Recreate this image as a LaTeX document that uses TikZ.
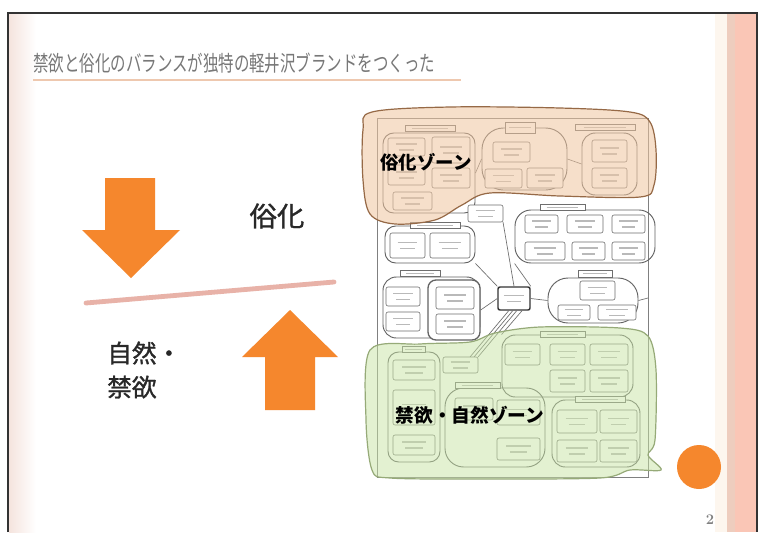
\documentclass[tikz,border=0pt]{standalone}
\usepackage{graphicx}
\usepackage{fontspec}
\newfontfamily\jp{Noto Sans CJK JP}
\newfontfamily\jpm[FakeBold=1.2]{Noto Sans CJK JP}
\usetikzlibrary{fit,calc}
\definecolor{orng}{RGB}{245,135,45}
\definecolor{pinkln}{RGB}{232,178,168}
\definecolor{peach}{RGB}{238,200,175}
\definecolor{barpink}{RGB}{250,198,182}
\definecolor{barmid}{RGB}{238,205,190}
\definecolor{barlite}{RGB}{253,246,238}
\definecolor{leftstrip}{RGB}{245,228,222}
\definecolor{titlegray}{RGB}{120,120,120}
\definecolor{zoneOfill}{RGB}{240,198,160}
\definecolor{zoneOline}{RGB}{150,105,70}
\definecolor{zoneGfill}{RGB}{200,228,165}
\definecolor{zoneGline}{RGB}{150,170,120}
\definecolor{dgline}{RGB}{110,110,110}
\definecolor{txtdark}{RGB}{40,40,40}
\tikzset{
  bx/.style={draw=dgline, fill=white, rounded corners=1.5pt, line width=0.45pt, inner sep=0pt},
  hdr/.style={draw=dgline, fill=white, line width=0.35pt, inner sep=0pt},
  grp/.style={draw=dgline!90!black, rounded corners=6pt, line width=0.7pt, inner sep=0pt},
  hubst/.style={draw=black!80, fill=white, rounded corners=1.5pt, line width=1.1pt, inner sep=0pt},
  txt/.style={draw=gray!55, line width=0.9pt},
  conn/.style={draw=dgline, line width=0.5pt},
  zoneO/.style={fill=zoneOfill, fill opacity=0.55, draw=zoneOline, draw opacity=1, line width=0.9pt},
  zoneG/.style={fill=zoneGfill, fill opacity=0.5, draw=zoneGline, draw opacity=1, line width=0.9pt},
  arrowfill/.style={fill=orng},
}
\newcommand\bxx[5]{%
  \node[bx, fit={(#2,#3) (#4,#5)}] (#1) {};
  \draw[txt] ($(#1.west)!0.22!(#1.east)+(0,-3)$) -- ($(#1.west)!0.78!(#1.east)+(0,-3)$);
  \draw[txt] ($(#1.west)!0.3!(#1.east)+(0,3)$) -- ($(#1.west)!0.7!(#1.east)+(0,3)$);
}
\newcommand\hdd[5]{%
  \node[hdr, fit={(#2,#3) (#4,#5)}] (#1) {};
  \draw[txt, line width=0.6pt] ($(#1.west)!0.15!(#1.east)$) -- ($(#1.west)!0.85!(#1.east)$);
}
\newcommand\grpp[6]{\node[grp, rounded corners=#6, fit={(#2,#3) (#4,#5)}] (#1) {};}
\begin{document}
\begin{tikzpicture}[x=0.75pt,y=-0.75pt]
\useasboundingbox (0,0) rectangle (763,532);
\fill[white] (0,0) rectangle (763,532);
% slide decorations
\shade[left color=leftstrip, right color=white] (9,14) rectangle (36,532);
\fill[barlite] (715,14) rectangle (727,532);
\fill[barmid] (727,14) rectangle (735,532);
\fill[barpink] (735,14) rectangle (757,532);
\draw[black!80, line width=0.9pt] (8,532) -- (8,13) -- (757,13) -- (757,532);
% title
\node[anchor=west, inner sep=0pt, text=titlegray, font=\jp\fontsize{11.6}{13}\selectfont] (title) at (33,63) {\scalebox{1}[1.4]{禁欲と俗化のバランスが独特の軽井沢ブランドをつくった}};
\draw[peach, line width=2pt] (33,80) -- (461,80);
% arrows and separator
\fill[arrowfill] (105,178) -- (155,178) -- (155,230) -- (180,230) -- (131,278) -- (82,230) -- (105,230) -- cycle;
\fill[arrowfill] (290,310) -- (338,357) -- (315,357) -- (315,410) -- (265,410) -- (265,357) -- (242,357) -- cycle;
\draw[pinkln, line width=3.6pt, line cap=round] (86,303) -- (334,282);
\node[text=txtdark, font=\jpm\fontsize{20.5}{22}\selectfont, inner sep=0pt] (zokka) at (277,216) {俗化};
\node[text=txtdark, font=\jpm\fontsize{18.5}{25.5}\selectfont, align=left, anchor=west, inner sep=0pt] (shizen) at (107,370) {自然・\\禁欲};
% embedded diagram
\node[draw=gray, line width=0.6pt, fill=white, inner sep=0pt, fit={(377,118) (648,477)}] (frame) {};
% groups
\grpp{A}{383}{133}{475}{213}{8pt}
\grpp{B}{482}{128}{567}{190}{16pt}
\grpp{C}{582}{133}{637}{195}{10pt}
\grpp{D}{515}{210}{655}{263}{12pt}
\grpp{E}{385}{226}{475}{263}{8pt}
\grpp{F}{383}{277}{480}{338}{10pt}
\node[grp, line width=1pt, rounded corners=6pt, fill=white, fit={(428,280) (480,340)}] (G) {};
\grpp{I}{548}{278}{638}{323}{15pt}
\grpp{J}{388}{352}{440}{462}{8pt}
\grpp{L}{502}{335}{633}{397}{10pt}
\grpp{N}{445}{388}{545}{467}{14pt}
\grpp{O}{552}{400}{640}{467}{10pt}
% connectors
\draw[conn] (A.east) -- (B.west);
\draw[conn] (B.east) -- (C.west);
\node[hubst, fit={(498,287) (530,310)}] (H) {};
\draw[conn] (G.east) -- (H.west);
\draw[conn] (H.north) -- (503,222);
\draw[conn] (H.north west) -- (E.south east);
\draw[conn] (H.north east) -- (D.south west);
\draw[conn] (H.east) -- (I.west);
\draw[conn] ([xshift=-4]H.south) -- (470,357);
\draw[conn] ([xshift=-1]H.south) -- (474,357);
\draw[conn] ([xshift=2]H.south) -- (478,357);
\draw[conn] ([xshift=6]H.south) -- (L.north west);
\coordinate (rb) at (648,298);
\draw[conn] (I.east) -- (rb);
\draw[txt, line width=0.6pt] ($(H.west)!0.2!(H.east)+(0,-3)$) -- ($(H.west)!0.8!(H.east)+(0,-3)$);
\draw[txt, line width=0.6pt] ($(H.west)!0.3!(H.east)+(0,3)$) -- ($(H.west)!0.7!(H.east)+(0,3)$);
% headers
\hdd{hA}{405}{125}{455}{131}
\hdd{hB}{505}{122}{535}{133}
\hdd{hC}{575}{124}{635}{130}
\hdd{hD}{540}{204}{585}{210}
\hdd{hE}{410}{222}{460}{228}
\hdd{hF}{400}{270}{440}{276}
\hdd{hI}{578}{270}{612}{277}
\hdd{hJ}{402}{346}{425}{352}
\hdd{hL}{540}{331}{585}{337}
\hdd{hN}{455}{382}{500}{388}
\hdd{hO}{575}{396}{625}{402}
% boxes
\bxx{a1}{388}{138}{425}{156}
\bxx{a2}{432}{137}{470}{163}
\bxx{a3}{388}{165}{425}{185}
\bxx{a4}{432}{168}{470}{188}
\bxx{a5}{393}{192}{432}{210}
\bxx{b1}{493}{142}{530}{162}
\bxx{b2}{485}{169}{522}{188}
\bxx{b3}{527}{168}{563}{188}
\bxx{c1}{592}{140}{627}{162}
\bxx{c2}{592}{168}{627}{188}
\bxx{M}{468}{205}{503}{222}
\bxx{d1}{525}{215}{558}{233}
\bxx{d2}{567}{215}{603}{233}
\bxx{d3}{612}{215}{645}{233}
\bxx{d4}{525}{242}{565}{260}
\bxx{d5}{572}{242}{605}{260}
\bxx{d6}{612}{242}{645}{260}
\bxx{e1}{390}{233}{425}{258}
\bxx{e2}{430}{233}{470}{258}
\bxx{f1}{386}{287}{420}{306}
\bxx{f2}{386}{312}{420}{331}
\bxx{g1}{436}{287}{474}{309}
\bxx{g2}{436}{314}{474}{334}
\bxx{i1}{580}{281}{615}{300}
\bxx{i2}{558}{305}{590}{320}
\bxx{i3}{598}{305}{636}{320}
\bxx{j1}{393}{360}{435}{380}
\bxx{j2}{393}{390}{435}{425}
\bxx{j3}{393}{435}{435}{455}
\bxx{K}{443}{357}{478}{373}
\bxx{l1}{505}{344}{540}{365}
\bxx{l2}{550}{344}{585}{365}
\bxx{l3}{590}{344}{628}{365}
\bxx{l4}{550}{370}{585}{392}
\bxx{l5}{590}{370}{628}{392}
\bxx{n1}{455}{398}{493}{420}
\bxx{n2}{497}{400}{540}{425}
\bxx{n3}{497}{438}{540}{460}
\bxx{o1}{557}{410}{597}{433}
\bxx{o2}{600}{410}{637}{433}
\bxx{o3}{557}{440}{597}{462}
\bxx{o4}{600}{440}{637}{462}
% zones
\path[zoneO] plot[smooth cycle, tension=0.55] coordinates {(372,112) (450,107) (560,108) (630,112) (650,122) (656,150) (654,185) (640,197) (560,196) (490,193) (462,205) (435,220) (395,224) (370,214) (363,180) (363,130)};
\path[zoneG] plot[smooth cycle, tension=0.5] coordinates {(370,350) (420,344) (470,342) (495,333) (540,327) (620,328) (648,336) (656,370) (655,440) (648,455) (661,470) (630,470) (600,478) (480,479) (390,478) (372,470) (366,420)};
\node[font=\jp\bfseries\fontsize{13.8}{15}\selectfont, inner sep=0pt] (zoneOlabel) at (426,162) {俗化ゾーン};
\node[font=\jp\bfseries\fontsize{14}{15}\selectfont, inner sep=0pt] (zoneGlabel) at (470,415) {禁欲・自然ゾーン};
% page dot and number
\node[circle, fill=orng, minimum size=33pt, inner sep=0pt] (dot) at (699,467) {};
\node[text=gray, font=\bfseries\fontsize{11}{12}\selectfont, inner sep=0pt] (pnum) at (710,520) {2};
\end{tikzpicture}
\end{document}
